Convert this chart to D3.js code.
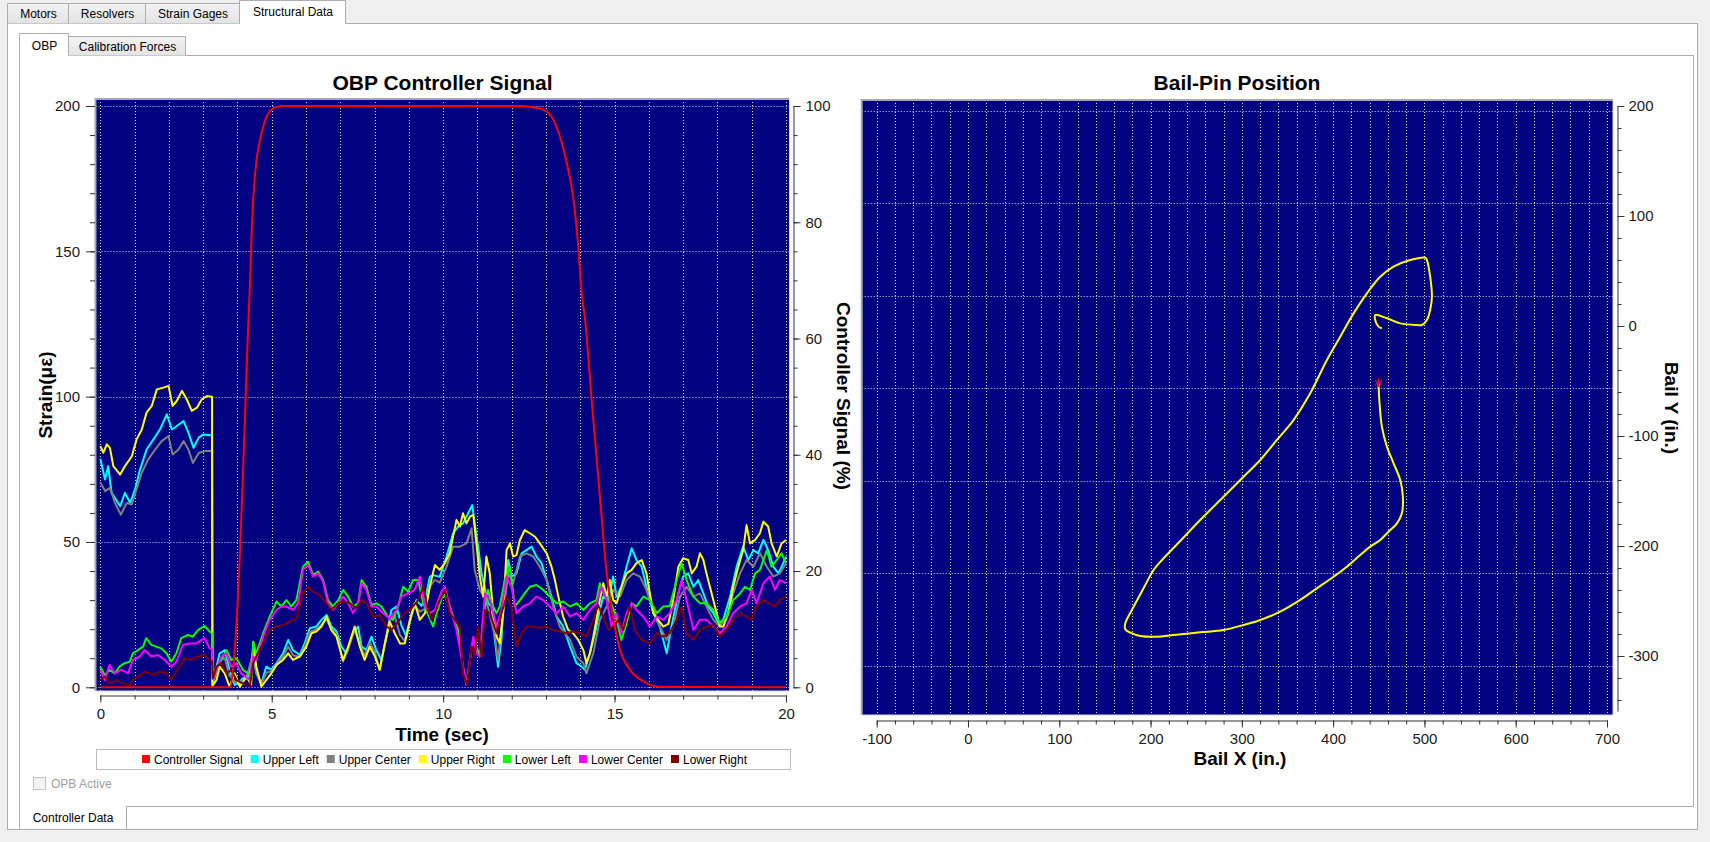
<!DOCTYPE html>
<html>
<head>
<meta charset="utf-8">
<script src="https://cdn.jsdelivr.net/npm/d3@7"></script>
<style>
  body { margin: 0; background: #f0f0f0; }
  svg { display: block; font-family: "Liberation Sans", Arial, sans-serif; }
</style>
</head>
<body>
<script>
// ---- data ----
var outerTabs = ["Motors", "Resolvers", "Strain Gages", "Structural Data"];
var innerTabs = ["OBP", "Calibration Forces"];
var seriesNames = ["Controller Signal", "Upper Left", "Upper Center", "Upper Right", "Lower Left", "Lower Center", "Lower Right"];
var seriesColors = ["#ff0000", "#00ffff", "#808080", "#ffff00", "#00ff00", "#ff00ff", "#800000"];

var strainTicks = [0, 50, 100, 150, 200];
var signalTicks = [0, 20, 40, 60, 80, 100];
var timeTicks = [0, 5, 10, 15, 20];
var bailXTicks = [-100, 0, 100, 200, 300, 400, 500, 600, 700];
var bailYTicks = [-300, -200, -100, 0, 100, 200];
var bailGridY = [195.7, 111.5, 27.3, -56.6, -140.9, -224.8, -308.8];

// controller signal, % (time sec, value)
var controllerSignal = [[0,0],[3.78,0],[3.88,3.5],[4.01,15],[4.08,24.2],[4.17,38],[4.27,55.2],[4.32,63],[4.37,70],[4.42,79],[4.46,84],[4.56,90.8],[4.66,94.2],[4.80,97.4],[5.0,99.4],[5.29,100],[12.24,100],[12.6,99.8],[12.92,99.4],[13.21,97.7],[13.46,93.7],[13.65,89],[13.80,84],[13.94,75.9],[14.04,67.8],[14.14,63.3],[14.33,49.5],[14.58,32.3],[14.77,19.6],[14.97,11.6],[15.16,6.4],[15.45,3],[15.84,1],[16.33,0.1],[20,0]];

// strain, microstrain (time sec, value)
var upperLeft = [[0,78.6],[0.14,71.5],[0.23,76.1],[0.33,66.9],[0.58,62.3],[0.72,66.9],[0.87,63.4],[1.01,68],[1.16,74.9],[1.35,81.8],[1.55,85.3],[1.74,88.7],[1.94,93.9],[2.09,88.7],[2.23,89.9],[2.43,91.6],[2.57,87.6],[2.72,82.4],[2.87,85.9],[3.01,87],[3.21,86.7],[3.26,86.7],[3.27,2],[3.39,7.1],[3.48,11.7],[3.63,12.8],[3.77,6],[3.92,0.8],[4.07,2],[4.16,3.1],[4.31,3.7],[4.46,11.7],[4.55,4.8],[4.70,1.4],[4.84,7.1],[4.99,6],[5.14,8.3],[5.33,11.7],[5.48,16.3],[5.62,12.8],[5.82,11.1],[5.96,15.1],[6.11,20.3],[6.30,20.9],[6.45,23.2],[6.60,24.9],[6.74,20.9],[6.89,19.2],[7.03,14],[7.18,11.7],[7.37,18.6],[7.52,20.9],[7.62,14],[7.76,12.8],[7.91,17.4],[8.05,12.8],[8.20,9.4],[8.35,17.4],[8.49,26.6],[8.64,27.8],[8.78,21.4],[8.93,17.4],[9.08,24.9],[9.22,30],[9.37,28],[9.51,32],[9.61,38],[9.71,38.6],[9.90,38],[10.10,45],[10.29,53],[10.44,55.3],[10.58,56.4],[10.73,59.9],[10.85,62.7],[10.92,56.4],[11.02,48.4],[11.12,39.2],[11.21,34.6],[11.31,28.9],[11.41,27.8],[11.51,16.3],[11.60,7.1],[11.70,16.3],[11.80,36.9],[11.90,43.8],[11.99,38.1],[12.14,39.2],[12.29,46.1],[12.43,47.2],[12.58,48.4],[12.72,45],[12.87,42.7],[13.02,36.9],[13.16,31.2],[13.31,24.3],[13.50,20.9],[13.70,14],[13.89,8.3],[14.04,7.1],[14.13,6],[14.28,11.7],[14.43,18.6],[14.57,26.6],[14.67,31.2],[14.82,30],[14.96,38.1],[15.06,31.2],[15.20,34.6],[15.35,41.5],[15.50,47.8],[15.64,43.8],[15.79,41.5],[15.93,34.6],[16.13,25.5],[16.32,20.9],[16.52,11.7],[16.66,20.9],[16.86,32.3],[17.00,38.1],[17.15,39.2],[17.30,34.6],[17.44,36.9],[17.59,32.3],[17.73,27.8],[17.88,25.5],[18.03,22],[18.17,23.2],[18.37,31.2],[18.56,41.5],[18.75,48.4],[18.90,43.8],[19.05,47.2],[19.19,46.1],[19.34,50.7],[19.48,47.2],[19.63,41.5],[19.78,39.2],[19.92,42.7],[20,45]];

var upperCenter = [[0,70.6],[0.14,67.5],[0.28,68.6],[0.43,63.4],[0.60,59.4],[0.77,63.4],[0.92,62.9],[1.07,68.6],[1.21,73.8],[1.40,78.4],[1.60,81.8],[1.79,84.7],[1.99,86.4],[2.11,80.1],[2.28,81.8],[2.43,84.7],[2.57,81.8],[2.70,77.2],[2.87,80.6],[3.06,81.3],[3.26,81.3],[3.27,1],[3.39,5],[3.48,9],[3.63,10],[3.77,4],[3.92,2],[4.07,1.5],[4.26,3],[4.46,12],[4.55,5],[4.70,1],[4.84,5],[4.99,5.5],[5.14,8],[5.33,10.5],[5.48,14],[5.62,11],[5.82,10.5],[5.96,14],[6.11,19],[6.30,20],[6.45,21.5],[6.60,23.5],[6.74,20],[6.89,18],[7.08,8.8],[7.23,13],[7.42,20],[7.57,14.5],[7.71,11],[7.86,15.5],[8.01,12],[8.15,6],[8.30,15],[8.44,24],[8.59,24.5],[8.74,18],[8.88,16],[9.03,23],[9.17,28],[9.32,26],[9.47,27],[9.61,34.6],[9.76,37],[9.90,36],[10.10,41.5],[10.29,48.4],[10.49,48.4],[10.68,49.5],[10.83,54.7],[10.92,40.4],[11.07,33.5],[11.26,30],[11.51,17.4],[11.60,9.4],[11.75,25.5],[11.90,39.2],[12.04,35.8],[12.24,45],[12.43,46.1],[12.63,45],[12.82,41.5],[13.02,36.9],[13.21,27.8],[13.40,20.9],[13.70,16.3],[13.89,10.6],[14.09,8.3],[14.18,4.8],[14.38,11.7],[14.57,23.2],[14.77,27.8],[14.96,33.5],[15.16,31.2],[15.35,36.9],[15.54,39.2],[15.74,38.1],[15.93,33.5],[16.13,26.6],[16.32,20.9],[16.52,16.3],[16.71,20.9],[16.91,31.2],[17.10,34.6],[17.30,31.2],[17.49,32.3],[17.68,27.8],[17.88,23.2],[18.07,20.9],[18.27,24.3],[18.46,32.3],[18.66,39.2],[18.85,43.8],[19.05,41.5],[19.24,46.1],[19.44,41.5],[19.63,38.1],[19.82,39.2],[20,42.7]];

var upperRight = [[0,83],[0.09,80.7],[0.19,83.6],[0.28,82.4],[0.38,76.1],[0.58,73.2],[0.72,76.1],[0.92,79.5],[1.06,85.3],[1.21,88.7],[1.35,94.5],[1.50,96.8],[1.65,102.5],[1.84,103.1],[1.99,103.7],[2.11,96.8],[2.23,98.5],[2.38,102],[2.52,99.1],[2.67,95.1],[2.82,96.2],[2.96,99.1],[3.11,100.2],[3.26,100],[3.27,0.5],[3.39,2.5],[3.48,7.1],[3.63,4.8],[3.77,0.2],[3.92,4.8],[4.07,0.2],[4.26,3.7],[4.40,1],[4.46,15.7],[4.55,7.1],[4.70,0.2],[4.84,2.5],[4.99,4.8],[5.14,7.7],[5.33,9.4],[5.48,11.7],[5.62,9.4],[5.82,10.6],[6.01,14],[6.16,18.6],[6.30,19.2],[6.45,20.9],[6.60,24.3],[6.74,19.7],[6.89,17.4],[7.08,9.4],[7.23,14],[7.42,20.9],[7.57,14],[7.71,9.4],[7.86,14],[8.01,10.6],[8.15,6],[8.30,15.1],[8.44,22.6],[8.59,18.6],[8.74,15.1],[8.88,15.1],[9.03,23.2],[9.17,28.9],[9.32,23.2],[9.47,25.5],[9.61,34.6],[9.76,42.1],[9.90,40.4],[10.05,42.7],[10.19,46.1],[10.29,51.8],[10.39,57.6],[10.49,55.3],[10.58,59.9],[10.68,56.4],[10.78,58.7],[10.88,59.3],[10.97,49.5],[11.07,38.1],[11.17,31.2],[11.26,45],[11.36,39.2],[11.46,25.5],[11.56,17.4],[11.65,15.1],[11.75,25.5],[11.85,47.2],[11.95,49.5],[12.04,45],[12.14,45.5],[12.24,50.7],[12.38,54.1],[12.53,53],[12.68,51.8],[12.82,49.5],[13.02,46.1],[13.16,41.5],[13.26,36.9],[13.36,31.2],[13.50,24.3],[13.65,19.7],[13.79,18.6],[13.94,16.3],[14.09,12.8],[14.18,8.3],[14.28,11.7],[14.38,17.4],[14.47,23.2],[14.57,30],[14.67,35.8],[14.77,31.2],[14.86,36.9],[14.96,30],[15.06,28.9],[15.20,34.6],[15.35,39.2],[15.50,40.4],[15.64,42.7],[15.79,43.8],[15.93,39.2],[16.03,32.3],[16.13,25.5],[16.27,23.2],[16.42,20.9],[16.57,21.8],[16.71,30],[16.86,41.5],[17.00,44.4],[17.15,43.8],[17.25,39.2],[17.39,41.5],[17.49,46.1],[17.59,43.8],[17.68,39.2],[17.78,34.6],[17.88,30],[17.98,25.5],[18.07,20.9],[18.17,20.9],[18.32,25.5],[18.46,34.6],[18.61,41.5],[18.75,47.2],[18.85,55.8],[18.95,49.5],[19.10,50.7],[19.24,53],[19.34,57],[19.48,55.3],[19.58,49.5],[19.73,45],[19.87,49.5],[20,50.7]];

var lowerLeft = [[0,7.1],[0.13,4.2],[0.27,6],[0.42,4.8],[0.56,7.1],[0.71,8.3],[0.86,8.8],[0.95,11.7],[1.10,12.8],[1.25,14],[1.34,16.9],[1.49,14.6],[1.63,14],[1.78,13.4],[1.93,11.7],[2.07,8.8],[2.22,11.7],[2.36,16.9],[2.56,18],[2.70,17.4],[2.85,19.7],[3.04,21.1],[3.19,19.2],[3.26,18.5],[3.28,4],[3.39,7.1],[3.53,9.4],[3.68,12.8],[3.82,9.4],[3.97,10],[4.16,6],[4.31,4.8],[4.41,3.1],[4.46,15.7],[4.55,11.7],[4.75,18.6],[4.94,24.3],[5.14,29.5],[5.28,27.8],[5.43,30],[5.57,27.8],[5.72,30],[5.91,41.5],[6.06,43.2],[6.21,38.6],[6.35,39.8],[6.50,36.9],[6.64,30],[6.79,27.8],[6.94,30],[7.08,33.5],[7.23,31.2],[7.37,27.8],[7.52,28.9],[7.62,36.9],[7.76,34.6],[7.91,28.3],[8.05,28.9],[8.20,27.8],[8.39,24.3],[8.54,23.2],[8.69,27.8],[8.83,34.6],[8.98,32.9],[9.12,36.9],[9.27,36.9],[9.42,28.9],[9.56,25],[9.71,20.9],[9.81,25.5],[10.0,32.3],[10.15,29.5],[10.29,24.3],[10.44,19.7],[10.58,7.1],[10.68,0.8],[10.78,9.4],[10.88,16.3],[10.97,14],[11.07,10.6],[11.17,23.2],[11.31,33.5],[11.41,28.9],[11.56,25.5],[11.65,27.8],[11.80,36.9],[11.95,41.5],[12.09,27.8],[12.24,30],[12.38,32.3],[12.53,34.6],[12.72,35.2],[12.92,33.5],[13.11,31.2],[13.31,28.9],[13.50,29.5],[13.70,27.8],[13.89,28.9],[14.09,26.6],[14.28,28.9],[14.47,30],[14.57,35.8],[14.72,31.2],[14.86,30],[15.01,25.5],[15.20,16.3],[15.35,22],[15.50,28.9],[15.64,27.8],[15.84,31.2],[16.03,30],[16.23,25.5],[16.42,27.8],[16.61,28],[16.81,36.9],[16.96,42.7],[17.10,36.9],[17.30,31.2],[17.49,28.9],[17.68,28.9],[17.88,26.6],[18.07,22],[18.27,24.3],[18.46,30],[18.66,32.3],[18.80,34.6],[18.95,33.5],[19.10,39.2],[19.24,40.4],[19.44,47.2],[19.58,41.5],[19.73,43.8],[19.87,46.1],[20,42.7]];

var lowerCenter = [[0,6],[0.13,2.5],[0.27,7.7],[0.42,4.8],[0.61,6],[0.81,4.8],[0.95,9.4],[1.15,10.6],[1.29,12.8],[1.49,10.6],[1.68,11.1],[1.88,9.4],[2.07,7.1],[2.22,8.8],[2.41,14.6],[2.61,15.1],[2.80,15.1],[3.04,16.9],[3.19,13.4],[3.26,13],[3.28,3],[3.39,6],[3.53,10.6],[3.68,11.7],[3.82,7.1],[3.97,8.3],[4.11,4.8],[4.36,2.5],[4.46,10.6],[4.55,9.4],[4.75,17.4],[4.94,23.2],[5.14,26.6],[5.28,27.8],[5.43,27.8],[5.62,26.6],[5.77,28.9],[5.91,40.4],[6.06,42.1],[6.21,38.1],[6.35,39.2],[6.50,36.4],[6.64,28.9],[6.79,26.6],[6.94,28.9],[7.08,31.2],[7.23,28.9],[7.37,25.5],[7.52,28.3],[7.62,35.8],[7.76,33.5],[7.91,27.8],[8.05,27.8],[8.25,25.5],[8.44,23.7],[8.64,26.6],[8.78,31.2],[8.98,32.3],[9.17,33.5],[9.32,38.1],[9.47,27.8],[9.61,25.5],[9.76,26.6],[9.95,32.9],[10.05,34.6],[10.19,27.8],[10.39,19.7],[10.58,7.1],[10.68,0.8],[10.83,14],[10.88,17.4],[10.97,11.7],[11.07,10.6],[11.22,32.3],[11.36,30],[11.56,20.9],[11.70,26.6],[11.85,38.1],[11.99,34.6],[12.14,25.5],[12.33,27.8],[12.53,28.9],[12.72,31.2],[12.92,30],[13.11,27.8],[13.31,25.5],[13.50,27.8],[13.70,24.3],[13.89,25.5],[14.09,23.2],[14.28,26.6],[14.47,28.9],[14.62,34.6],[14.77,30],[14.91,20.9],[15.06,25.5],[15.20,18.6],[15.35,25.5],[15.50,28.9],[15.64,26.6],[15.84,24.3],[16.03,20.9],[16.23,24.3],[16.42,23.2],[16.61,25.5],[16.81,30],[16.96,36.9],[17.10,30],[17.30,19.7],[17.49,23.2],[17.68,23.2],[17.88,20.9],[18.07,18.6],[18.27,20.9],[18.46,25.5],[18.66,27.8],[18.85,28.9],[19.0,33.5],[19.14,28.9],[19.34,35.8],[19.53,38.1],[19.68,33.5],[19.82,36.9],[20,35.8]];

var lowerRight = [[0,2.5],[0.13,3.7],[0.27,1.4],[0.47,2.5],[0.66,1.4],[0.86,0.8],[0.95,2.5],[1.15,4.2],[1.34,5.4],[1.54,4.2],[1.73,5.4],[1.93,4.8],[2.07,2.5],[2.27,6.5],[2.46,10],[2.66,9.4],[2.85,10.6],[3.04,11.1],[3.19,9.4],[3.26,9],[3.28,3],[3.39,7.1],[3.53,8.3],[3.68,4.8],[3.82,6],[3.97,2.5],[4.16,1.4],[4.36,0.2],[4.46,8.3],[4.55,10.6],[4.75,15.1],[4.94,19.7],[5.14,20.9],[5.33,21.4],[5.53,22.6],[5.72,23.7],[5.91,32.3],[6.06,34.6],[6.21,32.9],[6.40,31.8],[6.60,28.9],[6.74,26.6],[6.94,28.9],[7.08,29.5],[7.28,28.9],[7.47,27.2],[7.62,30],[7.76,28.9],[7.96,24.3],[8.15,24.9],[8.35,20.9],[8.49,19.7],[8.69,22.6],[8.88,25.5],[9.08,27.2],[9.27,30],[9.42,34.6],[9.56,26.6],[9.66,23.2],[9.76,25.5],[9.90,30],[10.05,33.5],[10.19,25.5],[10.34,23.2],[10.49,20.9],[10.58,4.8],[10.70,0.8],[10.83,14],[10.92,10.6],[11.02,20.9],[11.12,10.6],[11.22,26.6],[11.36,25.5],[11.56,18.6],[11.70,25.5],[11.85,31.2],[11.99,27.8],[12.14,14],[12.29,18.6],[12.43,20.9],[12.63,20.9],[12.82,20.4],[13.02,20.9],[13.21,19.7],[13.40,19.2],[13.60,18.6],[13.79,19.2],[13.99,18.6],[14.18,17.4],[14.38,23.2],[14.52,28.3],[14.67,24.3],[14.82,19.7],[14.96,20.9],[15.11,23.2],[15.25,19.7],[15.45,27.8],[15.59,19.7],[15.79,16.3],[16.03,15.1],[16.23,18.6],[16.42,17.4],[16.61,18.6],[16.81,23.2],[16.96,27.8],[17.10,18.6],[17.30,16.3],[17.49,19.7],[17.68,20.9],[17.88,21.4],[18.07,17.4],[18.27,19.7],[18.46,23.2],[18.66,25.5],[18.85,24.3],[19.0,23.2],[19.14,27.8],[19.34,30],[19.53,28.9],[19.68,27.8],[19.82,30],[20,31.2]];

// bail pin trace, inches
var bailX = [453.4,449.7,446.1,446.1,458.9,473.5,491.8,497.3,502.7,506.3,508.2,506.3,502.7,500.9,484.4,466.2,451.6,437,422.4,407.8,393.2,374.9,356.6,338.4,320.2,301.9,280,254.4,233,212.5,203.3,192.3,181.4,172.3,172.3,177.8,188.7,207,225.2,254.4,280,301.9,320.2,342,364,382.2,400.5,415.1,429.7,440.6,451.6,460.7,469.9,475.3,476.4,473.5,466.2,458.9,453.4,450.6,449.7];
var bailY = [-2.1,-0.6,5.5,10,7,2.4,0.9,0.9,5.5,14.5,26.6,44.8,60,62.1,60,53.9,44.8,29.7,11.5,-9.7,-30.9,-61.2,-85.5,-103.6,-121.8,-137,-155.2,-176.4,-195,-212.7,-221.8,-238.5,-255.2,-270.3,-275.7,-278.8,-281.8,-282.5,-280.9,-278.5,-276.4,-271.8,-267.3,-259.7,-249,-238.5,-227.9,-218.8,-208.2,-200.6,-194.5,-187,-179.4,-170.3,-155.2,-140,-124.8,-109.7,-91.5,-67.3,-51.5];

var strainSeries = [upperLeft, upperCenter, upperRight, lowerLeft, lowerCenter, lowerRight];

// ---- page ----
var W = 1710, H = 842;
var svg = d3.select("body").append("svg").attr("width", W).attr("height", H);
svg.append("rect").attr("width", W).attr("height", H).attr("fill", "#f0f0f0");

var defs = svg.append("defs");
var grad = defs.append("linearGradient").attr("id", "tabGrad").attr("x1", 0).attr("y1", 0).attr("x2", 0).attr("y2", 1);
grad.append("stop").attr("offset", "0%").attr("stop-color", "#f3f3f3");
grad.append("stop").attr("offset", "100%").attr("stop-color", "#e3e3e3");

var border = "#adadad";

// outer panel
svg.append("rect").attr("x", 7.5).attr("y", 23.5).attr("width", 1690).attr("height", 806)
    .attr("fill", "#fff").attr("stroke", border);

// outer tabs
var outerEdges = [7, 68, 145, 239, 345];
outerTabs.forEach(function (t, i) {
    var sel = i === 3;
    var x0 = outerEdges[i], x1 = outerEdges[i + 1];
    var y0 = sel ? 0.5 : 3.5;
    svg.append("path")
        .attr("d", "M" + (x0 + 0.5) + "," + 23.5 + "V" + y0 + "H" + (x1 + 0.5) + "V" + 23.5)
        .attr("fill", sel ? "#fff" : "url(#tabGrad)").attr("stroke", border);
    if (sel) svg.append("line").attr("x1", x0 + 1).attr("x2", x1).attr("y1", 23.5).attr("y2", 23.5).attr("stroke", "#fff");
    svg.append("text").attr("x", (x0 + x1) / 2 + 1).attr("y", sel ? 16 : 18)
        .attr("text-anchor", "middle").attr("font-size", 12).attr("fill", "#000").text(t);
});

// inner panel
svg.append("rect").attr("x", 19.5).attr("y", 55.5).attr("width", 1674).attr("height", 751)
    .attr("fill", "#fff").attr("stroke", border);

var innerEdges = [19, 68, 185];
innerTabs.forEach(function (t, i) {
    var sel = i === 0;
    var x0 = innerEdges[i], x1 = innerEdges[i + 1];
    var y0 = sel ? 33.5 : 36.5;
    svg.append("path")
        .attr("d", "M" + (x0 + 0.5) + "," + 55.5 + "V" + y0 + "H" + (x1 + 0.5) + "V" + 55.5)
        .attr("fill", sel ? "#fff" : "url(#tabGrad)").attr("stroke", border);
    if (sel) svg.append("line").attr("x1", x0 + 1).attr("x2", x1).attr("y1", 55.5).attr("y2", 55.5).attr("stroke", "#fff");
    svg.append("text").attr("x", (x0 + x1) / 2 + 1).attr("y", sel ? 50 : 51)
        .attr("text-anchor", "middle").attr("font-size", 12).attr("fill", "#000").text(t);
});

// bottom tab
svg.append("path").attr("d", "M19.5,806.5V829.5H126.5V806.5").attr("fill", "#fff").attr("stroke", border);
svg.append("line").attr("x1", 20).attr("x2", 126).attr("y1", 806.5).attr("y2", 806.5).attr("stroke", "#fff");
svg.append("text").attr("x", 73).attr("y", 822).attr("text-anchor", "middle").attr("font-size", 12).text("Controller Data");

// checkbox
svg.append("rect").attr("x", 33.5).attr("y", 777.5).attr("width", 12).attr("height", 12)
    .attr("fill", "#f4f4f4").attr("stroke", "#c4c4c4");
svg.append("text").attr("x", 51).attr("y", 788).attr("font-size", 12).attr("fill", "#a0a0a0").text("OPB Active");

// ---- helpers ----
function plotFrame(id, b) {
    defs.append("clipPath").attr("id", id).append("rect")
        .attr("x", b.left).attr("y", b.top).attr("width", b.right - b.left).attr("height", b.bottom - b.top);
    svg.append("rect").attr("x", b.left).attr("y", b.top).attr("width", b.right - b.left).attr("height", b.bottom - b.top)
        .attr("fill", "#000080");
}
function plotBorder(b) {
    svg.append("path").attr("d", "M" + b.left + "," + b.bottom + "V" + b.top + "H" + b.right)
        .attr("fill", "none").attr("stroke", "#a8a8a8").attr("stroke-width", 2);
    svg.append("path").attr("d", "M" + b.right + "," + b.top + "V" + b.bottom + "H" + b.left)
        .attr("fill", "none").attr("stroke", "#d8d8e0").attr("stroke-width", 1);
}
function gridLines(b, clip, xs, xVals, ys, yVals) {
    var g = svg.append("g").attr("clip-path", "url(#" + clip + ")")
        .attr("stroke", "#dcdcec").attr("stroke-width", 1).attr("stroke-dasharray", "1,2");
    g.selectAll(".gx").data(xVals).enter().append("line")
        .attr("x1", function (d) { return Math.round(xs(d)) + 0.5; })
        .attr("x2", function (d) { return Math.round(xs(d)) + 0.5; })
        .attr("y1", b.top).attr("y2", b.bottom);
    g.selectAll(".gy").data(yVals).enter().append("line")
        .attr("y1", function (d) { return Math.round(ys(d)) + 0.5; })
        .attr("y2", function (d) { return Math.round(ys(d)) + 0.5; })
        .attr("x1", b.left).attr("x2", b.right);
}
function styleAxis(g, keepDomain) {
    if (!keepDomain) g.select(".domain").remove();
    g.selectAll(".domain, .tick line").attr("stroke", "#333");
    g.selectAll("text").attr("font-size", 15).attr("fill", "#1a1a1a")
        .attr("font-family", '"Liberation Sans", Arial, sans-serif');
}
function plain(d) { return String(d); }

// ---- left chart: OBP Controller Signal ----
var LB = { left: 95.5, right: 789.5, top: 99, bottom: 691 };
var xL = d3.scaleLinear().domain([0, 20]).range([100.3, 786]);
var yL = d3.scaleLinear().domain([0, 200]).range([687.3, 106]);
var ySig = d3.scaleLinear().domain([0, 100]).range([687.3, 106]);

plotFrame("clipL", LB);
gridLines(LB, "clipL", xL, d3.range(0, 21, 1), yL, strainTicks);

var lineL = d3.line().x(function (d) { return xL(d[0]); }).y(function (d) { return yL(d[1]); });
var gLines = svg.append("g").attr("clip-path", "url(#clipL)").attr("fill", "none")
    .attr("stroke-width", 2).attr("stroke-linejoin", "round");
strainSeries.forEach(function (s, i) {
    gLines.append("path").datum(s).attr("d", lineL).attr("stroke", seriesColors[i + 1]);
});
var lineSig = d3.line().curve(d3.curveMonotoneX)
    .x(function (d) { return xL(d[0]); }).y(function (d) { return ySig(d[1]); });
gLines.append("path").datum(controllerSignal).attr("d", lineSig).attr("stroke", seriesColors[0]);
plotBorder(LB);

var axL = svg.append("g").attr("transform", "translate(95,0)")
    .call(d3.axisLeft(yL).tickValues(d3.range(0, 201, 10)).tickSize(5).tickFormat(""));
styleAxis(axL, false);
axL = svg.append("g").attr("transform", "translate(95,0)")
    .call(d3.axisLeft(yL).tickValues(strainTicks).tickSize(9).tickPadding(6).tickFormat(plain));
styleAxis(axL, false);

var axB = svg.append("g").attr("transform", "translate(0,695.5)")
    .call(d3.axisBottom(xL).tickValues(d3.range(0, 21, 1)).tickSize(4).tickSizeOuter(0).tickFormat(""));
styleAxis(axB, true);
axB = svg.append("g").attr("transform", "translate(0,695.5)")
    .call(d3.axisBottom(xL).tickValues(timeTicks).tickSize(7).tickSizeOuter(0).tickPadding(6).tickFormat(plain));
styleAxis(axB, false);

var axR = svg.append("g").attr("transform", "translate(793.5,0)")
    .call(d3.axisRight(ySig).tickValues(d3.range(0, 101, 5)).tickSize(4).tickSizeOuter(0).tickFormat(""));
styleAxis(axR, true);
axR = svg.append("g").attr("transform", "translate(793.5,0)")
    .call(d3.axisRight(ySig).tickValues(signalTicks).tickSize(7).tickPadding(5).tickFormat(plain));
styleAxis(axR, false);

svg.append("text").attr("x", 442.5).attr("y", 90).attr("text-anchor", "middle")
    .attr("font-size", 21).attr("font-weight", "bold").text("OBP Controller Signal");
svg.append("text").attr("x", 442).attr("y", 741).attr("text-anchor", "middle")
    .attr("font-size", 19).attr("font-weight", "bold").text("Time (sec)");
svg.append("text").attr("transform", "translate(45,395) rotate(-90)").attr("text-anchor", "middle")
    .attr("dominant-baseline", "central").attr("font-size", 19).attr("font-weight", "bold").text("Strain(με)");
svg.append("text").attr("transform", "translate(843,396) rotate(90)").attr("text-anchor", "middle")
    .attr("dominant-baseline", "central").attr("font-size", 19).attr("font-weight", "bold").text("Controller Signal (%)");

// legend
var legG = svg.append("g");
legG.append("rect").attr("x", 96.5).attr("y", 749.5).attr("width", 694).attr("height", 20)
    .attr("fill", "#fff").attr("stroke", "#bdbdbd");
var items = legG.selectAll(".li").data(seriesNames).enter().append("g");
items.append("rect").attr("width", 8).attr("height", 8).attr("y", 755)
    .attr("fill", function (d, i) { return seriesColors[i]; });
items.append("text").attr("x", 12).attr("y", 763.5).attr("font-size", 12).text(function (d) { return d; });
var widths = [];
items.each(function () { widths.push(12 + d3.select(this).select("text").node().getComputedTextLength()); });
var span = 605, gap = (span - d3.sum(widths)) / (widths.length - 1);
var cx = 142;
items.attr("transform", function (d, i) {
    var tx = cx; cx += widths[i] + gap;
    return "translate(" + tx + ",0)";
});

// ---- right chart: Bail-Pin Position ----
var RB = { left: 861.7, right: 1613, top: 100, bottom: 715 };
var xR = d3.scaleLinear().domain([-100, 700]).range([876.7, 1607]);
var yR = d3.scaleLinear().domain([-350, 200]).range([711, 106]);

plotFrame("clipR", RB);
gridLines(RB, "clipR", xR, d3.range(-100, 701, 20), yR, bailGridY);

var bail = bailX.map(function (x, i) { return [x, bailY[i]]; });
var lineR = d3.line().curve(d3.curveCatmullRom.alpha(0.5))
    .x(function (d) { return xR(d[0]); }).y(function (d) { return yR(d[1]); });
var gR = svg.append("g").attr("clip-path", "url(#clipR)");
gR.append("path").datum(bail).attr("d", lineR).attr("fill", "none")
    .attr("stroke", "#ffff00").attr("stroke-width", 2).attr("stroke-linejoin", "round");
var last = bail[bail.length - 1];
gR.append("path").attr("d", d3.symbol().type(d3.symbolAsterisk || d3.symbolCross).size(50)())
    .attr("transform", "translate(" + xR(last[0]) + "," + yR(last[1]) + ")")
    .attr("fill", "none").attr("stroke", "#ff0000").attr("stroke-width", 1.2);
plotBorder(RB);

var axRB = svg.append("g").attr("transform", "translate(0,720.5)")
    .call(d3.axisBottom(xR).tickValues(d3.range(-100, 701, 20)).tickSize(4).tickSizeOuter(0).tickFormat(""));
styleAxis(axRB, true);
axRB = svg.append("g").attr("transform", "translate(0,720.5)")
    .call(d3.axisBottom(xR).tickValues(bailXTicks).tickSize(7).tickPadding(6).tickFormat(plain));
styleAxis(axRB, false);

var axRR = svg.append("g").attr("transform", "translate(1617.5,0)")
    .call(d3.axisRight(yR).tickValues(d3.range(-340, 201, 20)).tickSize(4).tickSizeOuter(0).tickFormat(""));
styleAxis(axRR, true);
axRR = svg.append("g").attr("transform", "translate(1617.5,0)")
    .call(d3.axisRight(yR).tickValues(bailYTicks).tickSize(7).tickPadding(4).tickFormat(plain));
styleAxis(axRR, false);

svg.append("text").attr("x", 1237).attr("y", 90).attr("text-anchor", "middle")
    .attr("font-size", 21).attr("font-weight", "bold").text("Bail-Pin Position");
svg.append("text").attr("x", 1240).attr("y", 765).attr("text-anchor", "middle")
    .attr("font-size", 19).attr("font-weight", "bold").text("Bail X (in.)");
svg.append("text").attr("transform", "translate(1671,408) rotate(90)").attr("text-anchor", "middle")
    .attr("dominant-baseline", "central").attr("font-size", 19).attr("font-weight", "bold").text("Bail Y (in.)");
</script>
</body>
</html>
